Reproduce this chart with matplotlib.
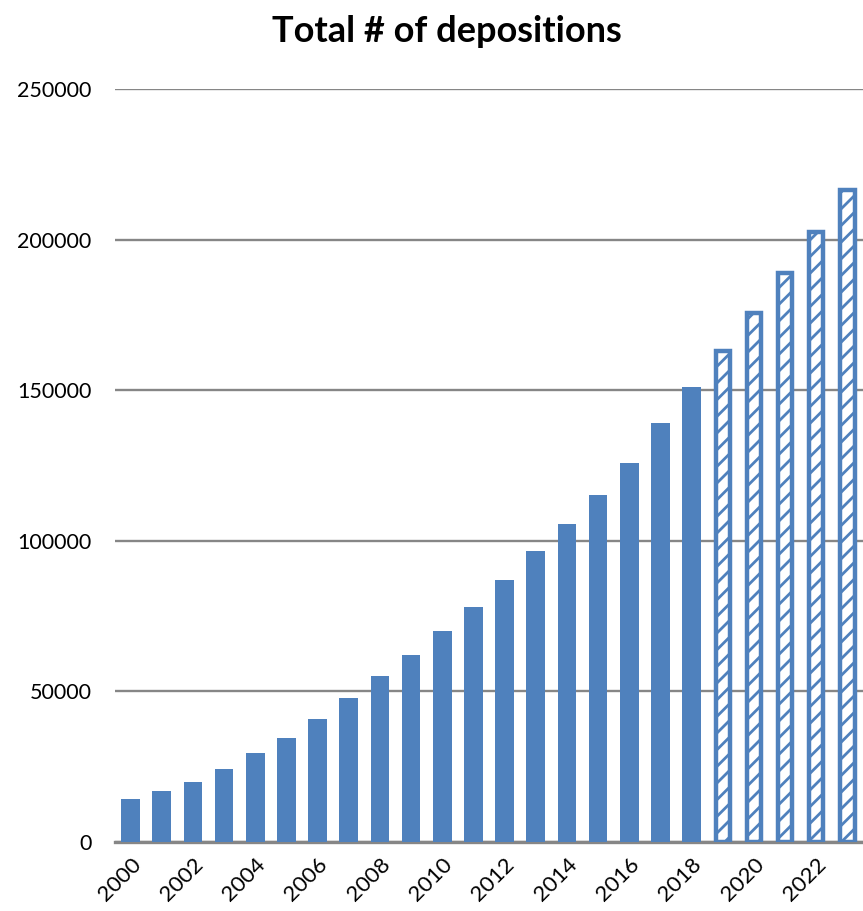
import matplotlib.pyplot as plt
import numpy as np

plt.rcParams['hatch.linewidth'] = 2.0

years = list(range(2000, 2024))
totals = [14300, 17000, 19800, 24200, 29400, 34700, 40900, 47900,
          55100, 62100, 70000, 78000, 87000, 96700, 105600, 115200,
          125900, 139100, 151000,
          163000, 175600, 188900, 202600, 216500]
# years from here on are projections
first_projected = 2019

blue = "#4F81BD"
grid_grey = "#868686"

fig = plt.figure(figsize=(8.63, 9.11), dpi=100)
ax = fig.add_axes([0.1333, 0.0757, 0.8667, 0.8266])

x = np.arange(len(years))
actual = [i for i, y in enumerate(years) if y < first_projected]
projected = [i for i, y in enumerate(years) if y >= first_projected]

ax.bar(x[actual], [totals[i] for i in actual], width=0.6, color=blue, zorder=3)
ax.bar(x[projected], [totals[i] for i in projected], width=0.46,
       facecolor="white", edgecolor=blue, linewidth=3.2, hatch="//", zorder=3)

ax.set_xlim(-0.5, len(years) - 0.5)
ax.set_ylim(0, 250000)
ax.set_yticks(np.arange(0, 250001, 50000))
ax.yaxis.grid(True, color=grid_grey, linewidth=1.7, zorder=0)
ax.set_axisbelow(True)

for side in ["top", "right", "left"]:
    ax.spines[side].set_visible(False)
ax.spines["bottom"].set_color(grid_grey)
ax.spines["bottom"].set_linewidth(2.4)

ax.set_xticks(x[::2])
ax.set_xticklabels([str(y) for y in years[::2]], rotation=45, ha="right",
                   rotation_mode="anchor", fontsize=16, family="Lato")
ax.tick_params(axis="x", length=0, pad=9)
ax.tick_params(axis="y", length=0, pad=17, labelsize=15.5)
for lbl in ax.get_yticklabels():
    lbl.set_family("Lato")

fig.text(447 / 863, 1 - 31 / 911, "Total # of depositions", fontsize=26,
         fontweight="bold", family="Lato", ha="center", va="center")

fig.savefig("out.png", dpi=100)
